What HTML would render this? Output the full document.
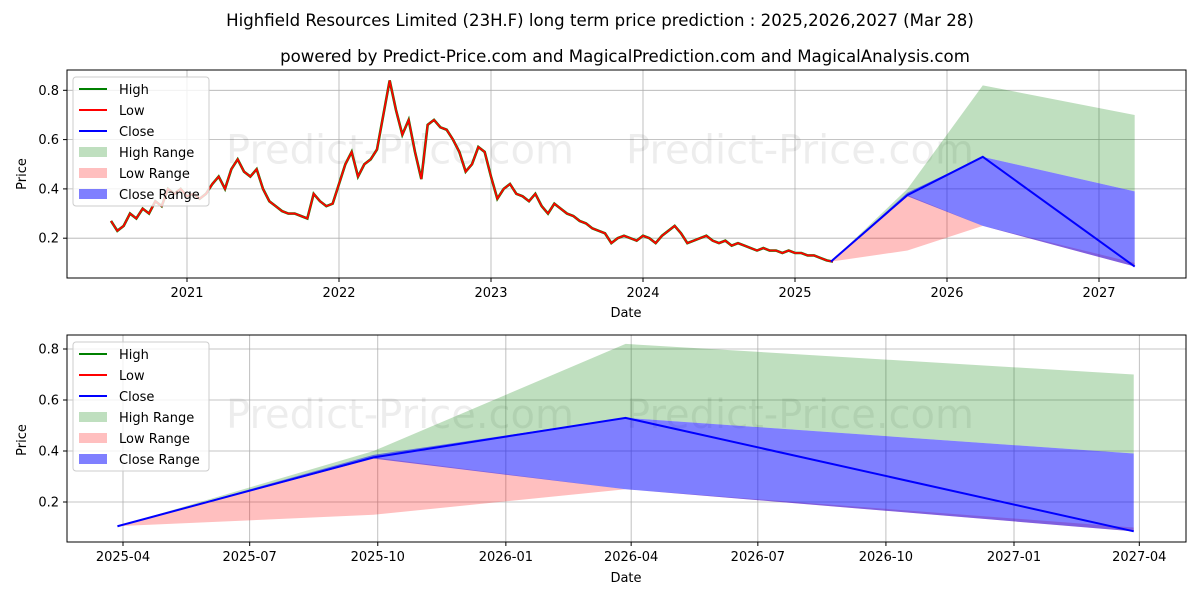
<!DOCTYPE html>
<html><head><meta charset="utf-8"><style>
body{margin:0;background:#fff;font-family:"Liberation Sans","DejaVu Sans",sans-serif}
svg text{font-family:"DejaVu Sans","Liberation Sans",sans-serif}
</style></head><body>
<svg id="c" width="1200" height="600" xmlns="http://www.w3.org/2000/svg">
<text x="600" y="26" font-size="16.6" text-anchor="middle">Highfield Resources Limited (23H.F) long term price prediction : 2025,2026,2027 (Mar 28)</text>
<text x="625" y="62" font-size="16.6" text-anchor="middle">powered by Predict-Price.com and MagicalPrediction.com and MagicalAnalysis.com</text>
<g id="top"></g>
<g id="bot"></g>
</svg>
<script>
const histPrice=[0.27,0.23,0.25,0.30,0.28,0.32,0.30,0.35,0.33,0.40,0.38,0.40,0.37,
0.38,0.36,0.38,0.42,0.45,0.40,0.48,0.52,0.47,0.45,0.48,0.40,0.35,0.33,0.31,0.30,0.30,0.29,0.28,0.38,0.35,0.33,0.34,0.42,
0.50,0.55,0.45,0.50,0.52,0.56,0.70,0.84,0.72,0.62,0.68,0.55,0.44,0.66,0.68,0.65,0.64,0.60,0.55,0.47,0.50,0.57,0.55,0.45,
0.36,0.40,0.42,0.38,0.37,0.35,0.38,0.33,0.30,0.34,0.32,0.30,0.29,0.27,0.26,0.24,0.23,0.22,0.18,0.20,0.21,0.20,0.19,0.21,
0.20,0.18,0.21,0.23,0.25,0.22,0.18,0.19,0.20,0.21,0.19,0.18,0.19,0.17,0.18,0.17,0.16,0.15,0.16,0.15,0.15,0.14,0.15,0.14,
0.14,0.13,0.13,0.12,0.11,0.105];
const predDates=["2025-03-28","2025-09-28","2026-03-28","2027-03-28"];
const highUpper=[0.105,0.40,0.82,0.70];
const highLower=[0.105,0.375,0.53,0.39];
const lowUpper=[0.105,0.375,0.25,0.10];
const lowLower=[0.105,0.15,0.25,0.085];
const closeUpper=[0.105,0.385,0.53,0.39];
const closeLower=[0.105,0.37,0.25,0.085];
const closeVals=[0.105,0.375,0.53,0.085];
const yTicks=[0.2,0.4,0.6,0.8];
const topXTicks=["2021","2022","2023","2024","2025","2026","2027"];
const botXTicks=["2025-04","2025-07","2025-10","2026-01","2026-04","2026-07","2026-10","2027-01","2027-04"];
const NS="http://www.w3.org/2000/svg";
function yr(d){const t=new Date(d+(d.length==7?"-01":"")+"T00:00:00Z");return 1970+(t-Date.UTC(1970,0,1))/(365.25*864e5);}
function mk(p,tag,a){const e=document.createElementNS(NS,tag);for(const k in a)e.setAttribute(k,a[k]);p.appendChild(e);return e;}
function panel(g,L,T,R,B,xs,ys,xticks){
 mk(g,"rect",{x:L,y:T,width:R-L,height:B-T,fill:"#fff"});
 for(const [v,lab] of xticks){const x=xs(v);
  const l=mk(g,"line",{x1:x,x2:x,y1:T,y2:B,stroke:"#b0b0b0","stroke-width":0.8});
  
  mk(g,"line",{x1:x,x2:x,y1:B,y2:B+4,stroke:"#000"});
  const t=mk(g,"text",{x:x,y:B+19,"font-size":13,"text-anchor":"middle"});t.textContent=lab;
  }
 for(const v of yTicks){const y=ys(v);
  const l=mk(g,"line",{x1:L,x2:R,y1:y,y2:y,stroke:"#b0b0b0","stroke-width":0.8});
  
  mk(g,"line",{x1:L-4,x2:L,y1:y,y2:y,stroke:"#000"});
  const t=mk(g,"text",{x:L-8,y:y+4.5,"font-size":13,"text-anchor":"end"});t.textContent=v.toFixed(1);
  }
 const w1=mk(g,"text",{x:400,y:T+(B-T)*0.45,"font-size":40,fill:"#000","fill-opacity":0.07,"text-anchor":"middle"});w1.textContent="Predict-Price.com";
 
 const w2=mk(g,"text",{x:800,y:T+(B-T)*0.45,"font-size":40,fill:"#000","fill-opacity":0.07,"text-anchor":"middle"});w2.textContent="Predict-Price.com";
 
 const band=(up,lo,col,op,name)=>{let d="M"+predDates.map((dt,i)=>xs(yr(dt))+","+ys(up[i])).join("L");
  for(let i=predDates.length-1;i>=0;i--)d+="L"+xs(yr(predDates[i]))+","+ys(lo[i]);
  const p=mk(g,"path",{d:d+"Z",fill:col,"fill-opacity":op});
  };
 band(highUpper,highLower,"#008000",0.25,"high-range");
 band(lowUpper,lowLower,"#ff0000",0.25,"low-range");
 band(closeUpper,closeLower,"#0000ff",0.5,"close-range");
}
function legend(g,x,y){
 const r=mk(g,"rect",{x:x,y:y,width:136,height:129,fill:"#fff","fill-opacity":0.8,stroke:"#ccc",rx:3});
 
 const items=[["High","line","#008000"],["Low","line","#ff0000"],["Close","line","#0000ff"],["High Range","box","rgba(0,128,0,0.25)"],["Low Range","box","rgba(255,0,0,0.25)"],["Close Range","box","rgba(0,0,255,0.5)"]];
 items.forEach((it,i)=>{const cy=y+12+i*21;
  if(it[1]=="line")mk(g,"line",{x1:x+6,x2:x+34,y1:cy,y2:cy,stroke:it[2],"stroke-width":2});
  else mk(g,"rect",{x:x+6,y:cy-5,width:28,height:10,fill:it[2]});
  const t=mk(g,"text",{x:x+46,y:cy+5,"font-size":13});t.textContent=it[0];
  });
}
// top panel
const gt=document.getElementById("top");
const xsT=v=>187+(v-2021)*152, ysT=v=>287.5-v*246.5;
panel(gt,67,70,1186,278,xsT,ysT,topXTicks.map(s=>[+s,s]));
const hp=histPrice.map((v,i)=>xsT(2020.5+i/24)+","+ysT(v)).join(" ");
let e=mk(gt,"polyline",{points:hp,fill:"none",stroke:"#008000","stroke-width":2.6});

e=mk(gt,"polyline",{points:hp,fill:"none",stroke:"#ff0000","stroke-width":1.8});

e=mk(gt,"polyline",{points:predDates.map((d,i)=>xsT(yr(d))+","+ysT(closeVals[i])).join(" "),fill:"none",stroke:"#0000ff","stroke-width":2});

mk(gt,"rect",{x:67,y:70,width:1119,height:208,fill:"none",stroke:"#000"});
legend(gt,73,77);
let t=mk(gt,"text",{x:626,y:317,"font-size":13,"text-anchor":"middle"});t.textContent="Date";

t=mk(gt,"text",{x:26,y:174,"font-size":13,"text-anchor":"middle",transform:"rotate(-90 26 174)"});t.textContent="Price";

// bottom panel
const gb=document.getElementById("bot");
const xsB=v=>123+(v-yr("2025-04"))*508.5, ysB=v=>553-v*255;
panel(gb,67,335,1186,542,xsB,ysB,botXTicks.map(s=>[yr(s),s]));
e=mk(gb,"polyline",{points:predDates.map((d,i)=>xsB(yr(d))+","+ysB(closeVals[i])).join(" "),fill:"none",stroke:"#0000ff","stroke-width":2});

mk(gb,"rect",{x:67,y:335,width:1119,height:207,fill:"none",stroke:"#000"});
legend(gb,73,342);
t=mk(gb,"text",{x:626,y:582,"font-size":13,"text-anchor":"middle"});t.textContent="Date";

t=mk(gb,"text",{x:26,y:440,"font-size":13,"text-anchor":"middle",transform:"rotate(-90 26 440)"});t.textContent="Price";

</script>
</body></html>
